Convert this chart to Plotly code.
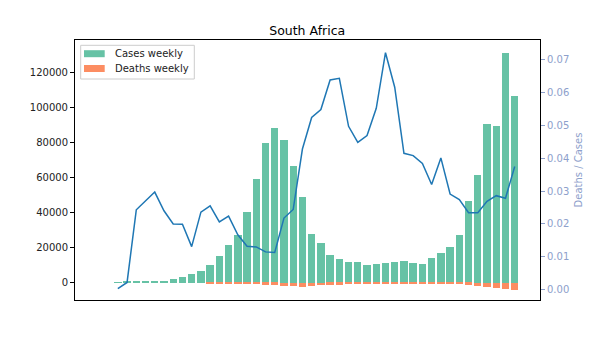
import plotly.graph_objects as go

weeks = list(range(44))
cases = [100, 1300, 700, 700, 1300, 1300, 2500, 3600, 5300, 7000, 10400, 15500,
         21800, 27500, 40600, 59200, 79600, 88200, 81300, 66500, 49000, 28000,
         22900, 15900, 13650, 11950, 11950, 10240, 10800, 11400, 11950, 12500,
         11400, 10800, 14200, 17000, 20500, 27300, 46600, 61400, 90400, 89300,
         130800, 106400]
deaths = [0, 0, 0, 0, 0, 0, 0, 0, 0, 0,
          265, 320, 490, 460, 540, 770, 920, 1000, 1700, 1600,
          2100, 1500, 1250, 1000, 900, 600, 540, 480, 600, 820,
          740, 520, 470, 420, 450, 680, 600, 750, 1100, 1450,
          2300, 2600, 3500, 3900]
ratio = [0.0003, 0.0022, 0.0243, 0.0271, 0.0297, 0.0240, 0.0200, 0.0199, 0.0131,
         0.0236, 0.0255, 0.0206, 0.0224, 0.0167, 0.0132, 0.0130, 0.0115, 0.0113,
         0.0218, 0.0244, 0.0428, 0.0524, 0.0548, 0.0638, 0.0643, 0.0497, 0.0448,
         0.0469, 0.0552, 0.0721, 0.0616, 0.0415, 0.0408, 0.0384, 0.0320, 0.0401,
         0.0291, 0.0274, 0.0234, 0.0234, 0.0269, 0.0286, 0.0278, 0.0375]
right_ticks = [0.00, 0.01, 0.02, 0.03, 0.04, 0.05, 0.06, 0.07]
left_ticks = [0, 20000, 40000, 60000, 80000, 100000, 120000]
legend_labels = ["Cases weekly", "Deaths weekly"]

GREEN = "#66c2a5"
ORANGE = "#fc8d62"
BLUE = "#1f77b4"
RCOL = "#8da0cb"
FONT = "DejaVu Sans"

fig = go.Figure()
fig.add_trace(go.Bar(x=weeks, y=cases, name=legend_labels[0], marker_color=GREEN,
                     marker_line_width=0, width=0.8, showlegend=False))
fig.add_trace(go.Bar(x=weeks, y=[-d for d in deaths], name=legend_labels[1],
                     marker_color=ORANGE, marker_line_width=0, width=0.8,
                     showlegend=False))
fig.add_trace(go.Scatter(x=weeks, y=ratio, mode="lines", yaxis="y2",
                         line=dict(color=BLUE, width=1.5), showlegend=False))

# plot area in pixels: x 75..540, y 40..300
def px(x):
    return (x - 75) / 465.0

def py(y):
    return (300 - y) / 260.0

# hand-drawn legend (matplotlib style)
fig.add_shape(type="rect", xref="paper", yref="paper",
              x0=px(80.7), x1=px(194.3), y0=py(79), y1=py(45.3),
              line=dict(color="#cccccc", width=1), fillcolor="rgba(255,255,255,0.8)",
              layer="above")
for i, (lab, col) in enumerate(zip(legend_labels, [GREEN, ORANGE])):
    cy = 53.7 + 14.8 * i
    fig.add_shape(type="rect", xref="paper", yref="paper",
                  x0=px(84), x1=px(104.7), y0=py(cy + 3.5), y1=py(cy - 3.5),
                  line=dict(width=0), fillcolor=col, layer="above")
    fig.add_annotation(xref="paper", yref="paper", x=px(113), y=py(cy),
                       xanchor="left", yanchor="middle", text=lab, showarrow=False,
                       font=dict(family=FONT, size=10, color="#222"))

fig.update_layout(
    width=600, height=337,
    margin=dict(l=75, r=60, t=40, b=37),
    paper_bgcolor="white", plot_bgcolor="white",
    font=dict(family=FONT, size=10, color="#222"),
    barmode="relative", bargap=0,
    showlegend=False,
    title=dict(text="South Africa", x=0.512, xanchor="center", y=0.91, yanchor="middle",
               font=dict(family=FONT, size=12.5, color="black")),
    xaxis=dict(range=[-4.64, 45.74], showticklabels=False, ticks="",
               showline=True, linecolor="black", linewidth=1, mirror=True,
               showgrid=False, zeroline=False),
    yaxis=dict(range=[-9690, 138230], tickvals=left_ticks, tickformat="d",
               ticks="outside", ticklen=4, tickcolor="black", showline=True,
               linecolor="black", linewidth=1, showgrid=False, zeroline=False,
               tickfont=dict(family=FONT, size=10, color="#222")),
    yaxis2=dict(overlaying="y", side="right", range=[-0.00314, 0.07597],
                tickvals=right_ticks, tickformat=".2f", ticks="outside",
                ticklen=4, tickcolor=RCOL, showline=True, linecolor="black",
                linewidth=1, showgrid=False, zeroline=False,
                tickfont=dict(family=FONT, size=10, color=RCOL),
                title=dict(text="Deaths / Cases", standoff=6,
                           font=dict(family=FONT, size=10, color=RCOL))),
)

fig.write_html("out.html")
